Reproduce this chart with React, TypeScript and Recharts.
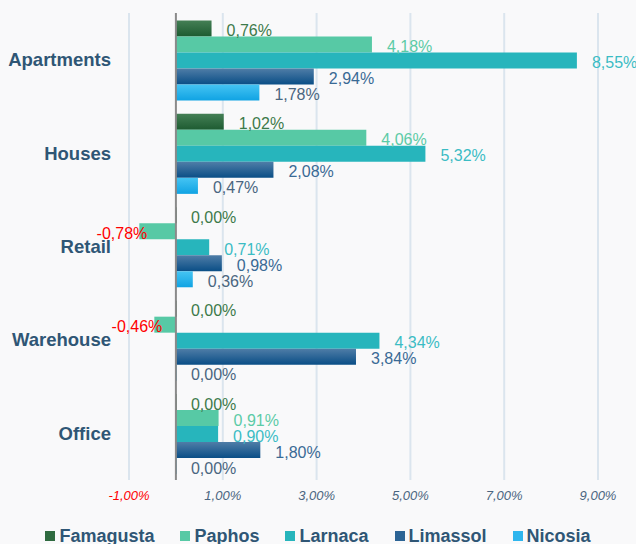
import { BarChart, Bar, XAxis, YAxis, CartesianGrid, ReferenceLine, Legend, LabelList } from "recharts";

const categories = ["Apartments", "Houses", "Retail", "Warehouse", "Office"];
const famagusta = [0.76, 1.02, 0.0, 0.0, 0.0];
const paphos = [4.18, 4.06, -0.78, -0.46, 0.91];
const larnaca = [8.55, 5.32, 0.71, 4.34, 0.9];
const limassol = [2.94, 2.08, 0.98, 3.84, 1.8];
const nicosia = [1.78, 0.47, 0.36, 0.0, 0.0];
const xTicks = [-1, 1, 3, 5, 7, 9];

const series = [
  { key: "Famagusta", values: famagusta, fill: "url(#gFam)", swatch: "#2f6b40", label: "#3d7a4a" },
  { key: "Paphos", values: paphos, fill: "#57c9a5", swatch: "#57c9a5", label: "#5ccba6" },
  { key: "Larnaca", values: larnaca, fill: "#27b5bc", swatch: "#27b5bc", label: "#3bbcc4" },
  { key: "Limassol", values: limassol, fill: "url(#gLim)", swatch: "#2c6495", label: "#3a6a95" },
  { key: "Nicosia", values: nicosia, fill: "url(#gNic)", swatch: "#2fb6ee", label: "#4a6680" },
];

const data = categories.map((name, i) => {
  const row: Record<string, string | number> = { name };
  series.forEach((s) => (row[s.key] = s.values[i]));
  return row;
});

const FONT = "'Liberation Sans', Arial, sans-serif";
const fmt = (v: number) => `${v.toFixed(2).replace(".", ",")}%`;

const makeLabel = (color: string) => (props: any) => {
  const { x, y, width, height, value } = props;
  const v = Number(value);
  const left = Math.min(x, x + width);
  const right = Math.max(x, x + width);
  const cy = y + height / 2 + 2;
  if (v < 0) {
    return (
      <text x={left + 8} y={cy} dy="0.35em" textAnchor="end" fill="#ff0000" fontSize={16} fontFamily={FONT}>
        {fmt(v)}
      </text>
    );
  }
  // zero bars get a 1px min size, so start the label from the axis
  const start = v === 0 ? x : right;
  return (
    <text x={start + 15} y={cy} dy="0.35em" textAnchor="start" fill={color} fontSize={16} fontFamily={FONT}>
      {fmt(v)}
    </text>
  );
};

const XTick = (props: any) => {
  const { x, y, payload } = props;
  const v = payload.value;
  return (
    <text x={x} y={y} dy="0.71em" textAnchor="middle" fontSize={13} fontStyle="italic" fontFamily={FONT} fill={v < 0 ? "#ff0000" : "#4a6580"}>
      {fmt(v)}
    </text>
  );
};

const YTick = (props: any) => {
  const { x, y, payload } = props;
  return (
    <text x={x} y={y} dy="0.35em" textAnchor="end" fontSize={18.5} fontWeight="bold" fontFamily={FONT} fill="#2f5675">
      {payload.value}
    </text>
  );
};

const LegendContent = () => (
  <div style={{ display: "flex", justifyContent: "center", gap: 26, paddingTop: 17, fontFamily: FONT }}>
    {series.map((s) => (
      <div key={s.key} style={{ display: "flex", alignItems: "center", lineHeight: "18px" }}>
        <span style={{ width: 10, height: 10, background: s.swatch, marginRight: 4, display: "inline-block" }} />
        <span style={{ fontSize: 18, fontWeight: "bold", color: "#2f5675" }}>{s.key}</span>
      </div>
    ))}
  </div>
);

export default function App() {
  return (
    <div style={{ position: "absolute", left: 0, top: 0, width: 636, height: 544, background: "#f9f9fa" }}>
      <BarChart
        width={636}
        height={544}
        data={data}
        layout="vertical"
        margin={{ top: 13, right: 38, bottom: 0, left: 0 }}
        barCategoryGap="8%"
        barGap={0}
      >
        <defs>
          <linearGradient id="gFam" x1="0" y1="0" x2="0" y2="1">
            <stop offset="0%" stopColor="#447f55" />
            <stop offset="100%" stopColor="#1d5b31" />
          </linearGradient>
          <linearGradient id="gLim" x1="0" y1="0" x2="0" y2="1">
            <stop offset="0%" stopColor="#4f7da7" />
            <stop offset="100%" stopColor="#0a4e86" />
          </linearGradient>
          <linearGradient id="gNic" x1="0" y1="0" x2="0" y2="1">
            <stop offset="0%" stopColor="#45c4f3" />
            <stop offset="100%" stopColor="#10a3e3" />
          </linearGradient>
        </defs>
        <CartesianGrid horizontal={false} stroke="#dbe5ee" strokeWidth={2} />
        <XAxis
          type="number"
          domain={[-1, 9]}
          ticks={xTicks}
          axisLine={false}
          tickLine={false}
          tickSize={0}
          tickMargin={11}
          height={30}
          tick={<XTick />}
        />
        <YAxis
          type="category"
          dataKey="name"
          width={129}
          axisLine={false}
          tickLine={false}
          tickSize={0}
          tickMargin={18}
          tick={<YTick />}
        />
        <Legend
          verticalAlign="bottom"
          height={34}
          wrapperStyle={{ left: 0, width: 636 }}
          content={<LegendContent />}
        />
        {series.map((s) => (
          <Bar key={s.key} dataKey={s.key} fill={s.fill} minPointSize={1} isAnimationActive={false}>
            <LabelList dataKey={s.key} content={makeLabel(s.label)} />
          </Bar>
        ))}
        <ReferenceLine x={0} stroke="#8a8a8a" strokeWidth={2} />
      </BarChart>
    </div>
  );
}
